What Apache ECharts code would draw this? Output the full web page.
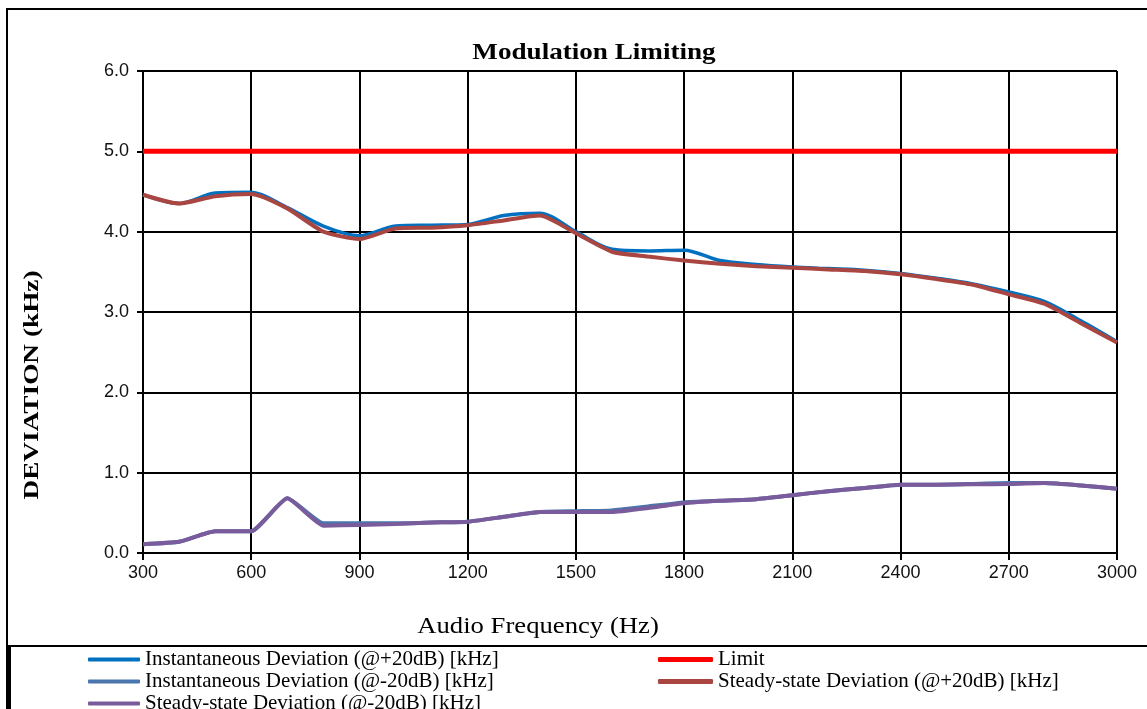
<!DOCTYPE html>
<html>
<head>
<meta charset="utf-8">
<script src="https://cdn.jsdelivr.net/npm/echarts@6/dist/echarts.min.js"></script>
<style>html,body{margin:0;padding:0;background:#fff;}#c{width:1147px;height:709px;}</style>
</head>
<body>
<div id="c"></div>
<script>
const freqs = [300,400,500,600,700,800,900,1000,1100,1200,1300,1400,1500,1600,1700,1800,1900,2000,2100,2200,2300,2400,2500,2600,2700,2800,2900,3000];
const instPlus20 = [4.46,4.35,4.48,4.49,4.30,4.07,3.95,4.07,4.08,4.09,4.20,4.23,4.00,3.78,3.76,3.77,3.64,3.59,3.56,3.54,3.52,3.48,3.42,3.35,3.25,3.13,2.89,2.63];
const instMinus20 = [0.11,0.14,0.27,0.27,0.68,0.37,0.37,0.37,0.38,0.39,0.45,0.51,0.52,0.53,0.58,0.63,0.65,0.67,0.72,0.77,0.81,0.85,0.85,0.86,0.87,0.87,0.84,0.80];
const limitVals = [5.0,5.0,5.0,5.0,5.0,5.0,5.0,5.0,5.0,5.0,5.0,5.0,5.0,5.0,5.0,5.0,5.0,5.0,5.0,5.0,5.0,5.0,5.0,5.0,5.0,5.0,5.0,5.0];
const steadyPlus20 = [4.46,4.35,4.44,4.47,4.29,4.00,3.91,4.04,4.05,4.08,4.14,4.20,3.98,3.75,3.69,3.64,3.60,3.57,3.55,3.53,3.51,3.47,3.41,3.34,3.22,3.10,2.86,2.62];
const steadyMinus20 = [0.11,0.14,0.27,0.27,0.68,0.34,0.35,0.36,0.38,0.39,0.45,0.51,0.51,0.51,0.56,0.62,0.65,0.67,0.72,0.77,0.81,0.85,0.85,0.855,0.86,0.87,0.84,0.80];
const yTicks = ['0.0','1.0','2.0','3.0','4.0','5.0','6.0'];

const names = {
  ip: 'Instantaneous Deviation (@+20dB) [kHz]',
  im: 'Instantaneous Deviation (@-20dB) [kHz]',
  lim: 'Limit',
  sp: 'Steady-state Deviation (@+20dB) [kHz]',
  sm: 'Steady-state Deviation (@-20dB) [kHz]'
};
const pair = arr => freqs.map((f,i)=>[f,arr[i]]);

const chart = echarts.init(document.getElementById('c'));
const serif = '"Liberation Serif","Times New Roman",serif';
const sans = '"Liberation Sans",Arial,sans-serif';
const legendText = {fontFamily: serif, fontSize: 21, color: '#000'};

chart.setOption({
  animation: false,
  backgroundColor: '#fff',
  grid: {left: 143, right: 30, top: 71, bottom: 156, containLabel: false},
  xAxis: {
    type: 'value', min: 300, max: 3000, interval: 300,
    axisLine: {show: true, onZero: false, lineStyle: {color: '#000', width: 2}},
    axisTick: {show: true, length: 7, lineStyle: {color: '#000', width: 2}},
    axisLabel: {fontFamily: sans, fontSize: 18, color: '#111', margin: 11, formatter: v => String(v)},
    splitLine: {show: true, lineStyle: {color: '#000', width: 2}}
  },
  yAxis: {
    type: 'value', min: 0, max: 6, interval: 1,
    axisLine: {show: true, lineStyle: {color: '#000', width: 2}},
    axisTick: {show: true, length: 6, lineStyle: {color: '#000', width: 2}},
    axisLabel: {fontFamily: sans, fontSize: 18, color: '#111', margin: 14, formatter: v => yTicks[Math.round(v)]},
    splitLine: {show: true, lineStyle: {color: '#000', width: 2}}
  },
  legend: [
    {
      orient: 'vertical', left: 88, top: 649, height: 120, width: 520, itemGap: 1, itemWidth: 52, itemHeight: 4,
      icon: 'roundRect', textStyle: legendText, padding: 0,
      data: [names.ip, names.im, names.sm]
    },
    {
      orient: 'vertical', left: 658, top: 649, height: 120, width: 480, itemGap: 1, itemWidth: 55, itemHeight: 5,
      icon: 'roundRect', textStyle: legendText, padding: 0,
      data: [names.lim, names.sp]
    }
  ],
  graphic: [
    {type: 'rect', shape: {x: 7, y: 9, width: 1150, height: 720}, style: {fill: 'none', stroke: '#000', lineWidth: 2}, silent: true},
    {type: 'rect', shape: {x: 9, y: 646, width: 1150, height: 100}, style: {fill: 'none', stroke: '#000', lineWidth: 2}, silent: true},
    {type: 'line', shape: {x1: 9, y1: 646, x2: 9, y2: 709}, style: {stroke: '#000', lineWidth: 4}, silent: true},
    {type: 'text', x: 594, y: 53, scaleX: 1.13, style: {text: 'Modulation Limiting', font: 'bold 24px ' + serif, fill: '#000', textAlign: 'center', textVerticalAlign: 'middle'}, silent: true},
    {type: 'text', x: 538, y: 627, scaleX: 1.16, style: {text: 'Audio Frequency (Hz)', font: '23px ' + serif, fill: '#000', textAlign: 'center', textVerticalAlign: 'middle'}, silent: true},
    {type: 'text', x: 32, y: 385, rotation: Math.PI/2, scaleX: 1.24, style: {text: 'DEVIATION (kHz)', font: 'bold 22px ' + serif, fill: '#000', textAlign: 'center', textVerticalAlign: 'middle'}, silent: true}
  ],
  series: [
    {name: names.ip, type: 'line', data: pair(instPlus20), smooth: 0.3, symbol: 'none', lineStyle: {color: '#0070C0', width: 3.5}, itemStyle: {color: '#0070C0'}},
    {name: names.im, type: 'line', data: pair(instMinus20), smooth: 0.15, symbol: 'none', lineStyle: {color: '#4A75AD', width: 4}, itemStyle: {color: '#4A75AD'}},
    {name: names.lim, type: 'line', data: pair(limitVals), symbol: 'none', lineStyle: {color: '#FF0000', width: 5}, itemStyle: {color: '#FF0000'}},
    {name: names.sp, type: 'line', data: pair(steadyPlus20), smooth: 0.2, symbol: 'none', lineStyle: {color: '#A94642', width: 4}, itemStyle: {color: '#A94642'}},
    {name: names.sm, type: 'line', data: pair(steadyMinus20), smooth: 0.15, symbol: 'none', lineStyle: {color: '#7A5C9C', width: 4}, itemStyle: {color: '#7A5C9C'}}
  ]
});
</script>
</body>
</html>
